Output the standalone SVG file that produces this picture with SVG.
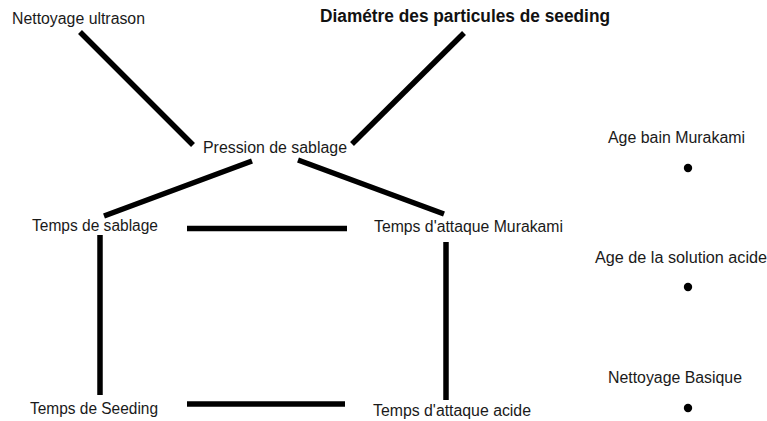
<svg xmlns="http://www.w3.org/2000/svg" width="767" height="421" viewBox="0 0 767 421">
<style>
.lbl{font-family:"Liberation Sans",Arial,sans-serif;font-size:16px;fill:#1a1a1a}
.ttl{font-family:"Liberation Sans",Arial,sans-serif;font-size:17.5px;font-weight:bold;fill:#111}
.ln{stroke:#000;stroke-width:5.5;fill:none;stroke-linecap:butt}
.dot{fill:#000}
</style>
<rect width="767" height="421" fill="#fff"/>
<g id="connectors">
<line class="ln" x1="80" y1="32" x2="193" y2="145"/>
<line class="ln" x1="464" y1="33" x2="352" y2="144"/>
<line class="ln" x1="252" y1="161" x2="104" y2="216"/>
<line class="ln" x1="298" y1="160" x2="444" y2="214"/>
<line class="ln" x1="187" y1="228.5" x2="347" y2="228.5"/>
<line class="ln" x1="187" y1="404" x2="345" y2="404"/>
<line class="ln" x1="100" y1="235" x2="100" y2="395"/>
<line class="ln" x1="446" y1="242" x2="446" y2="400"/>
</g>
<g id="nettoyage-ultrason"><text class="lbl" x="12" y="24" textLength="133" lengthAdjust="spacingAndGlyphs">Nettoyage ultrason</text></g>
<g id="diametre"><text class="ttl" x="320" y="22" textLength="290" lengthAdjust="spacingAndGlyphs">Diamétre des particules de seeding</text></g>
<g id="pression"><text class="lbl" x="203" y="153" textLength="144" lengthAdjust="spacingAndGlyphs">Pression de sablage</text></g>
<g id="temps-sablage"><text class="lbl" x="32" y="231" textLength="126" lengthAdjust="spacingAndGlyphs">Temps de sablage</text></g>
<g id="temps-murakami"><text class="lbl" x="374" y="232" textLength="189" lengthAdjust="spacingAndGlyphs">Temps d'attaque Murakami</text></g>
<g id="temps-seeding"><text class="lbl" x="30" y="414" textLength="128" lengthAdjust="spacingAndGlyphs">Temps de Seeding</text></g>
<g id="temps-acide"><text class="lbl" x="373" y="416" textLength="158" lengthAdjust="spacingAndGlyphs">Temps d'attaque acide</text></g>
<g id="age-bain"><text class="lbl" x="608" y="143" textLength="137" lengthAdjust="spacingAndGlyphs">Age bain Murakami</text><circle class="dot" cx="688" cy="168" r="4.2"/></g>
<g id="age-solution"><text class="lbl" x="595" y="263" textLength="172" lengthAdjust="spacingAndGlyphs">Age de la solution acide</text><circle class="dot" cx="688" cy="287" r="4.2"/></g>
<g id="nettoyage-basique"><text class="lbl" x="608" y="383" textLength="134" lengthAdjust="spacingAndGlyphs">Nettoyage Basique</text><circle class="dot" cx="688" cy="408" r="4.2"/></g>
</svg>
